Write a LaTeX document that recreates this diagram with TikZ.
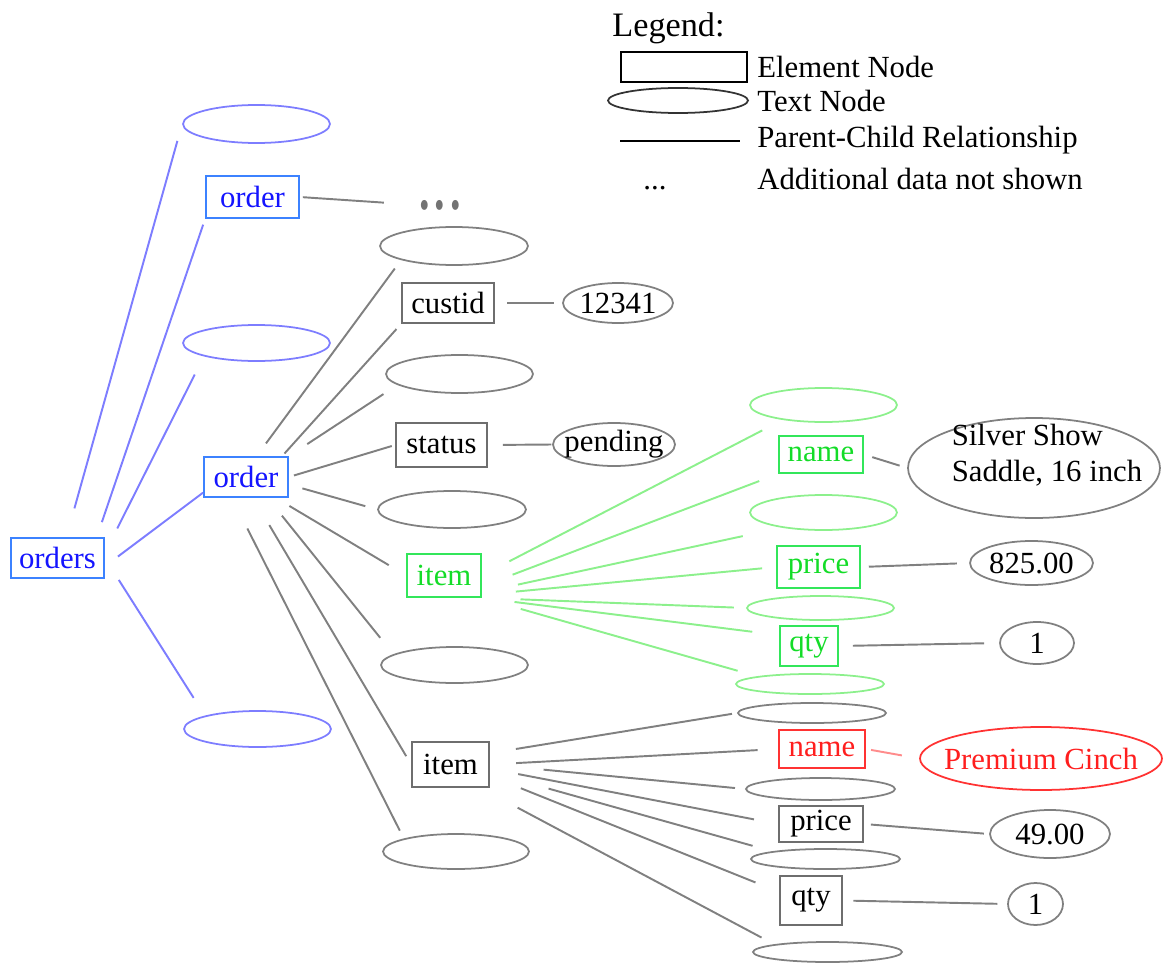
\documentclass[tikz,border=0pt]{standalone}
\usepackage{fontspec}
\setmainfont{Liberation Serif}
\usetikzlibrary{shapes.geometric}

\definecolor{bluetext}{RGB}{20,20,255}
\definecolor{blueframe}{RGB}{60,130,255}
\definecolor{blueline}{RGB}{125,125,255}
\definecolor{greentext}{RGB}{20,220,40}
\definecolor{greenframe}{RGB}{50,230,90}
\definecolor{greenline}{RGB}{140,240,140}
\definecolor{redtext}{RGB}{255,30,30}
\definecolor{redframe}{RGB}{255,50,50}
\definecolor{redline}{RGB}{255,140,140}
\definecolor{grayline}{RGB}{128,128,128}
\definecolor{grayframe}{RGB}{110,110,110}
\definecolor{dotgray}{RGB}{115,115,115}

\newcommand{\treefont}{\fontsize{17.5}{20}\selectfont}
\newcommand{\legendfont}{\fontsize{19.5}{22}\selectfont}
\newcommand{\zw}[1]{\makebox[0pt]{#1}}

\tikzset{
  elem/.style 2 args={rectangle, draw=grayframe, line width=1pt, inner sep=0pt, minimum width=#1cm, minimum height=#2cm},
  tnode/.style 2 args={ellipse, draw=grayline, line width=1pt, inner sep=0pt, minimum width=#1cm, minimum height=#2cm},
  bluebox/.style={draw=blueframe, text=bluetext},
  greenbox/.style={draw=greenframe, text=greentext},
  redbox/.style={draw=redframe, text=redtext},
  link/.style 2 args={draw=grayline, line width=1.1pt, shorten <=#1pt, shorten >=#2pt},
  bluelink/.style 2 args={link={#1}{#2}, draw=blueline},
  greenlink/.style 2 args={link={#1}{#2}, draw=greenline}
}

\begin{document}
\begin{tikzpicture}[x=0.02cm, y=-0.02cm, font=\treefont]
\useasboundingbox (0,0) rectangle (1163,963);

\node[anchor=base west, inner sep=0pt, font=\legendfont] (legend) at (612,37) {Legend:};
\node[rectangle, draw=black, line width=1pt, inner sep=0pt, minimum width=2.52cm, minimum height=0.6cm] (lgelem) at (684,67) {};
\node[ellipse, draw=black!80, line width=1pt, inner sep=0pt, minimum width=2.8cm, minimum height=0.5cm] (lgtext) at (678,100.5) {};
\coordinate (lgfrom) at (620,141);
\coordinate (lgto) at (740,141);
\draw[line width=1pt] (lgfrom) -- (lgto);
\node[anchor=base, inner sep=0pt] (lgdots) at (655,189) {...};
\node[anchor=base west, inner sep=0pt] (lgelemtxt) at (757,78) {Element Node};
\node[anchor=base west, inner sep=0pt] (lgtexttxt) at (757,112) {Text Node};
\node[anchor=base west, inner sep=0pt] (lglinetxt) at (757,148) {Parent-Child Relationship};
\node[anchor=base west, inner sep=0pt] (lgdotstxt) at (757,189) {Additional data not shown};

\node[elem={1.86}{0.8}, bluebox] (orders) at (57.5,558) {orders};
\node[tnode={2.94}{0.76}, draw=blueline] (e1) at (256.5,124) {};
\node[elem={1.86}{0.84}, bluebox] (ord1) at (252.5,197) {order};
\node[tnode={2.94}{0.72}, draw=blueline] (e2) at (256.5,343) {};
\node[elem={1.68}{0.8}, bluebox] (ord2) at (246,477) {order};
\node[tnode={2.94}{0.72}, draw=blueline] (e3) at (257.5,729) {};
\node[text=dotgray, inner sep=0pt] (dots) at (440,205) {\scalebox{1}[1.45]{\fontsize{24}{28}\selectfont\bfseries .\hspace{2.8pt}.\hspace{2.8pt}.}};

\node[tnode={2.96}{0.76}] (eA) at (454,246) {};
\node[elem={1.84}{0.8}] (cust) at (448,303) {custid};
\node[tnode={2.2}{0.8}] (t12341) at (618,303) {\zw{12341}};
\node[tnode={2.94}{0.76}] (eB) at (459.5,374) {};
\node[elem={1.82}{0.88}] (status) at (441.5,445) {status};
\node[tnode={2.44}{0.86}] (tpend) at (614,444.5) {\zw{pending}};
\node[tnode={2.96}{0.74}] (eC) at (452,509.5) {};
\node[elem={1.48}{0.86}, greenbox] (item1) at (444,575.5) {item};
\node[tnode={2.94}{0.72}] (eD) at (454.5,665) {};
\node[elem={1.54}{0.9}] (item2) at (450.5,764.5) {item};
\node[tnode={2.92}{0.7}] (eE) at (456,851.5) {};

\node[tnode={2.94}{0.68}, draw=greenline] (g1) at (823.5,405) {};
\node[elem={1.68}{0.74}, greenbox] (gname) at (821,454.5) {name};
\node[tnode={5.04}{2.0}] (tsilver) at (1034,468) {\zw{\hspace{0.52cm}\smash{\raisebox{0.46cm}{\begin{tabular}[t]{@{}l@{}}Silver Show\\[1pt]Saddle, 16 inch\end{tabular}}}}};
\node[tnode={2.94}{0.7}, draw=greenline] (g2) at (823.5,512.5) {};
\node[elem={1.66}{0.84}, greenbox] (gprice) at (818.5,567) {price};
\node[tnode={2.46}{0.88}] (t825) at (1031.5,563) {\zw{825.00}};
\node[tnode={2.94}{0.48}, draw=greenline] (g3) at (820.5,608) {};
\node[elem={1.16}{0.8}, greenbox] (gqty) at (809,646) {qty};
\node[tnode={1.48}{0.84}] (t1a) at (1037,643) {\zw{1}};
\node[tnode={2.96}{0.4}, draw=greenline] (g4) at (810,684) {};

\node[tnode={2.96}{0.4}] (h1) at (812,713) {};
\node[elem={1.72}{0.76}, redbox] (rname) at (822,749) {name};
\node[tnode={4.84}{1.26}, draw=redframe, text=redtext] (tprem) at (1041,758.5) {\zw{Premium Cinch}};
\node[tnode={2.98}{0.44}] (h2) at (820.5,789) {};
\node[elem={1.68}{0.72}] (price2) at (821,824) {price};
\node[tnode={2.4}{0.96}] (t49) at (1050,834) {\zw{49.00}};
\node[tnode={2.98}{0.4}] (h3) at (825.5,859) {};
\node[elem={1.24}{0.98}] (qty2) at (811,900.5) {qty};
\node[tnode={1.1}{0.84}] (t1b) at (1035.5,904) {\zw{1}};
\node[tnode={2.98}{0.4}] (h4) at (827.5,952) {};

\draw[bluelink={17}{10}] (orders.67) -- (e1.west);
\draw[bluelink={9}{3.5}] (orders.28) -- (ord1.south west);
\draw[bluelink={15.7}{11.6}] (orders.6) -- (e2.south west);
\draw[bluelink={9.3}{0}] (orders.-10) -- (ord2.200);
\draw[bluelink={14.8}{12}] (orders.east) -- (e3.north west);
\draw[link={1.7}{20}] (ord1.east) -- (dots.west);

\draw[link={9}{6}] (ord2.63) -- (eA.south west);
\draw[link={2}{4}] (ord2.30) -- (cust.south west);
\draw[link={12.5}{9.5}] (ord2.north east) -- (eB.190);
\draw[link={3}{2}] (ord2.east) -- (status.west);
\draw[link={8}{7}] (ord2.-10) -- (eC.west);
\draw[link={9}{11.5}] (ord2.-35) -- (item1.west);
\draw[link={13}{12}] (ord2.-44) -- (eD.170);
\draw[link={18}{5.5}] (ord2.-71) -- (item2.west);
\draw[link={19.5}{5}] (ord2.-124) -- (eE.north west);
\draw[link={7}{4.5}] (cust.east) -- (t12341.west);
\draw[link={8.5}{0.5}] (status.east) -- (tpend.west);

\draw[greenlink={17.6}{13}] (item1.east) -- (g1.200);
\draw[greenlink={18.7}{11.5}] (item1.-16) -- (gname.south west);
\draw[greenlink={21}{22.7}] (item1.-24) -- (g2.200);
\draw[greenlink={19.4}{8}] (item1.-27) -- (gprice.west);
\draw[greenlink={22}{7}] (item1.south east) -- (g3.west);
\draw[greenlink={18.7}{15.4}] (item1.south east) -- (gqty.160);
\draw[greenlink={23}{11.5}] (item1.south east) -- (g4.north west);
\draw[link={5}{4.5}] (gname.east) -- (tsilver.west);
\draw[link={4.5}{7}] (gprice.east) -- (t825.west);
\draw[link={8}{8.5}] (gqty.east) -- (t1a.west);

\draw[link={15}{3}] (item2.16) -- (h1.west);
\draw[link={15}{11.7}] (item2.east) -- (rname.west);
\draw[link={30.7}{5.8}] (item2.east) -- (h2.west);
\draw[link={16.4}{14}] (item2.-6) -- (price2.west);
\draw[link={34.7}{11.6}] (item2.-11) -- (h3.north west);
\draw[link={19}{14.5}] (item2.-16) -- (qty2.165);
\draw[link={24}{8.2}] (item2.-38) -- (h4.north west);
\draw[link={3}{10}, draw=redline] (rname.east) -- (tprem.west);
\draw[link={4}{3}] (price2.east) -- (t49.west);
\draw[link={6}{5.5}] (qty2.east) -- (t1b.west);
\end{tikzpicture}
\end{document}
